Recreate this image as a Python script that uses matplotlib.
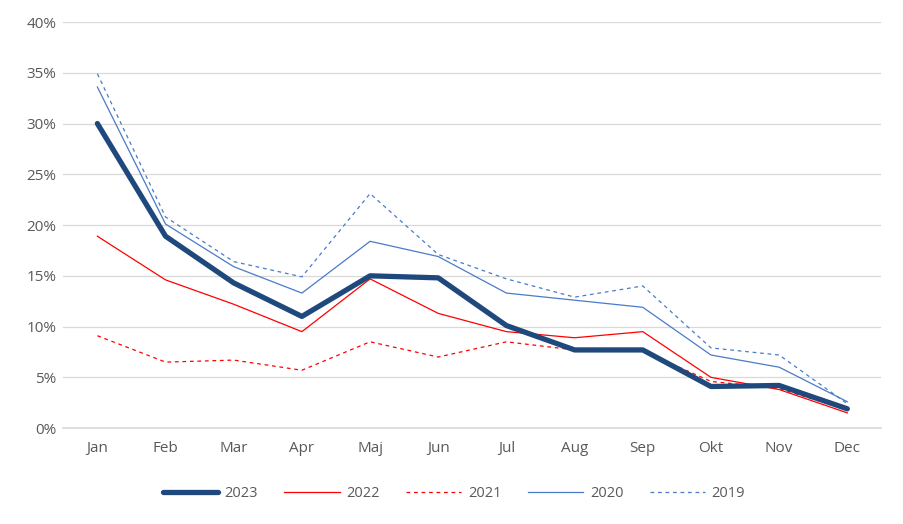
import matplotlib.pyplot as plt
from matplotlib.ticker import FuncFormatter

months = ["Jan", "Feb", "Mar", "Apr", "Maj", "Jun", "Jul", "Aug", "Sep", "Okt", "Nov", "Dec"]
y2023 = [30.0, 18.9, 14.3, 11.0, 15.0, 14.8, 10.1, 7.7, 7.7, 4.1, 4.2, 1.9]
y2022 = [18.9, 14.6, 12.2, 9.5, 14.7, 11.3, 9.5, 8.9, 9.5, 5.0, 3.8, 1.5]
y2021 = [9.1, 6.5, 6.7, 5.7, 8.5, 7.0, 8.5, 7.7, 7.6, 4.6, 3.9, 1.8]
y2020 = [33.6, 20.1, 15.9, 13.3, 18.4, 16.9, 13.3, 12.6, 11.9, 7.2, 6.0, 2.6]
y2019 = [34.9, 20.8, 16.4, 14.9, 23.1, 17.1, 14.7, 12.9, 14.0, 7.9, 7.2, 2.4]

plt.rcParams['font.family'] = ['Open Sans', 'DejaVu Sans']

fig = plt.figure(figsize=(9.04, 5.24), dpi=100)
ax = fig.add_axes([0.07, 0.183, 0.905, 0.775])

x = range(len(months))
dark = "#1F497D"
blue = "#4A7BC8"
red = "#FF0000"

ax.plot(x, y2019, color=blue, lw=0.9, ls=(0, (3, 3)), label="2019", zorder=2)
ax.plot(x, y2020, color=blue, lw=0.9, label="2020", zorder=2)
ax.plot(x, y2021, color=red, lw=0.9, ls=(0, (3, 3)), label="2021", zorder=3)
ax.plot(x, y2022, color=red, lw=0.9, label="2022", zorder=3)
ax.plot(x, y2023, color=dark, lw=3.8, solid_capstyle="round", solid_joinstyle="round",
        label="2023", zorder=4)

ax.set_xlim(-0.5, len(months) - 0.5)
ax.set_ylim(0, 40)
ax.set_yticks(range(0, 41, 5))
ax.yaxis.set_major_formatter(FuncFormatter(lambda v, p: f"{int(v)}%"))
ax.set_xticks(list(x))
ax.set_xticklabels(months)

ax.grid(axis="y", color="#D9D9D9", lw=0.9)
ax.set_axisbelow(True)
for s in ["top", "right", "left"]:
    ax.spines[s].set_visible(False)
ax.spines["bottom"].set_color("#D9D9D9")
ax.spines["bottom"].set_linewidth(1.2)
ax.tick_params(length=0, colors="#595959", labelsize=11)
ax.tick_params(axis="x", pad=9)
ax.tick_params(axis="y", pad=5)

# legend centred on the whole figure, 2023 first
handles, labels = ax.get_legend_handles_labels()
order = [4, 3, 2, 1, 0]
fig.legend([handles[i] for i in order], [labels[i] for i in order],
           loc="upper center", bbox_to_anchor=(0.502, 0.098), ncol=5, frameon=False,
           handlelength=3.8, columnspacing=1.8, handletextpad=0.45, fontsize=10.5,
           labelcolor="#595959")

fig.savefig("out.png", dpi=100)
